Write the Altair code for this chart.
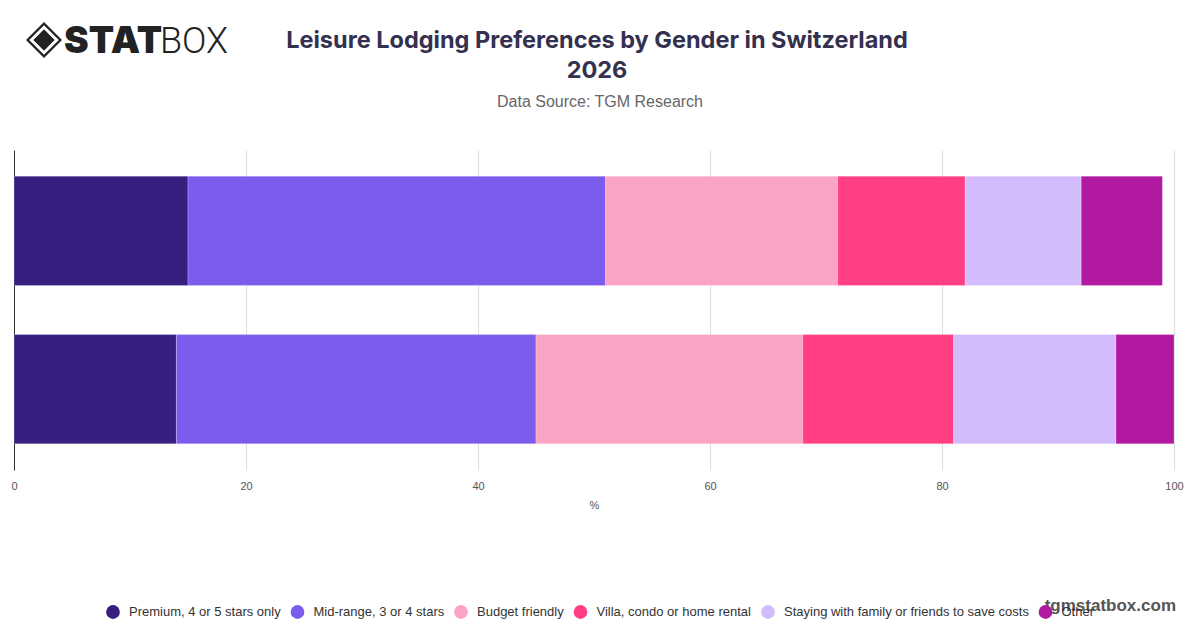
import altair as alt
import pandas as pd

genders = ["Male", "Female"]
categories = [
    "Premium, 4 or 5 stars only",
    "Mid-range, 3 or 4 stars",
    "Budget friendly",
    "Villa, condo or home rental",
    "Staying with family or friends to save costs",
    "Other",
]
male_values = [15, 36, 20, 11, 10, 7]
female_values = [14, 31, 23, 13, 14, 5]
colors = ["#371F80", "#7B5CED", "#FBA3C4", "#FF3E83", "#D4BBFB", "#B219A1"]
x_ticks = [0, 20, 40, 60, 80, 100]
title_lines = ["Leisure Lodging Preferences by Gender in Switzerland", "2026"]
subtitle_text = "Data Source: TGM Research"

rows = []
for g, vals in zip(genders, [male_values, female_values]):
    for i, (c, v) in enumerate(zip(categories, vals)):
        rows.append({"Gender": g, "Category": c, "Value": v, "Order": i})
df = pd.DataFrame(rows)

FONT = "Liberation Sans"

bars = alt.Chart(df).mark_bar(strokeWidth=0.6, stroke="#ffffff", strokeOpacity=0.4).encode(
    x=alt.X(
        "Value:Q",
        stack="zero",
        scale=alt.Scale(domain=[0, 100], nice=False),
        axis=alt.Axis(
            title="%", values=x_ticks, domain=False, ticks=False, grid=True,
            gridColor="#dddddd", labelColor="#555555", labelFontSize=11,
            labelFont=FONT, labelPadding=10, labelFlush=False,
            titleFont=FONT, titleFontSize=11,
            titleFontWeight="normal", titleColor="#555555", titlePadding=8,
        ),
    ),
    y=alt.Y(
        "Gender:N",
        sort=genders,
        scale=alt.Scale(paddingInner=0.31, paddingOuter=0.165),
        axis=alt.Axis(title=None, labels=False, ticks=False, domain=True,
                      domainColor="#333333", domainWidth=1),
    ),
    color=alt.Color(
        "Category:N",
        sort=categories,
        scale=alt.Scale(domain=categories, range=colors),
        legend=alt.Legend(
            title=None, orient="none", direction="horizontal",
            legendX=92, legendY=455, symbolType="circle", symbolSize=190,
            symbolStrokeWidth=0, labelFont=FONT, labelFontSize=13,
            labelColor="#333333", labelLimit=400, columnPadding=9.5,
            labelOffset=9, columns=6,
        ),
    ),
    order=alt.Order("Order:Q"),
)

title1 = alt.Chart(pd.DataFrame({"t": [title_lines[0]]})).mark_text(
    font="Inter", fontSize=23.5, fontWeight="bold", color="#34304f",
    align="center", baseline="alphabetic",
).encode(text="t:N", x=alt.value(583), y=alt.value(-102))
title2 = alt.Chart(pd.DataFrame({"t": [title_lines[1]]})).mark_text(
    font="Inter", fontSize=23.5, fontWeight="bold", color="#34304f",
    align="center", baseline="alphabetic",
).encode(text="t:N", x=alt.value(583), y=alt.value(-72))
subtitle = alt.Chart(pd.DataFrame({"t": [subtitle_text]})).mark_text(
    font=FONT, fontSize=16, color="#666666", align="center", baseline="alphabetic",
).encode(text="t:N", x=alt.value(586), y=alt.value(-43))

watermark = alt.Chart(pd.DataFrame({"t": ["tgmstatbox.com"]})).mark_text(
    font=FONT, fontSize=17, fontWeight="bold", color="#555555", align="right",
    baseline="middle",
).encode(text="t:N", x=alt.value(1162), y=alt.value(456))

logo_df = pd.DataFrame({"a": ["STAT"], "b": ["BOX"]})
logo_stat = alt.Chart(logo_df).mark_text(
    font="Inter", fontSize=37, fontWeight=900, color="#222222", align="left",
    baseline="alphabetic",
).encode(text="a:N", x=alt.value(50), y=alt.value(-97))
logo_box = alt.Chart(logo_df).mark_text(
    font="Roboto", fontSize=36, fontWeight=300, color="#222222", align="left",
    baseline="alphabetic",
).encode(text="b:N", x=alt.value(146), y=alt.value(-97))
logo_outer = alt.Chart(logo_df).mark_point(
    shape="diamond", filled=True, color="#222222", size=1300, opacity=1,
).encode(x=alt.value(30), y=alt.value(-110))
logo_inner = alt.Chart(logo_df).mark_point(
    shape="diamond", filled=False, color="#ffffff", size=650, strokeWidth=3, opacity=1,
).encode(x=alt.value(30), y=alt.value(-110))

chart = alt.layer(
    bars, watermark, logo_outer, logo_inner, logo_stat, logo_box,
    title1, title2, subtitle,
).properties(
    width=1160,
    height=320,
    padding={"left": 6, "top": 142, "right": 18, "bottom": 150},
    autosize=alt.AutoSizeParams(type="none"),
).configure_view(stroke=None)

chart.save("out.html", embed_options={"renderer": "svg", "actions": False})
